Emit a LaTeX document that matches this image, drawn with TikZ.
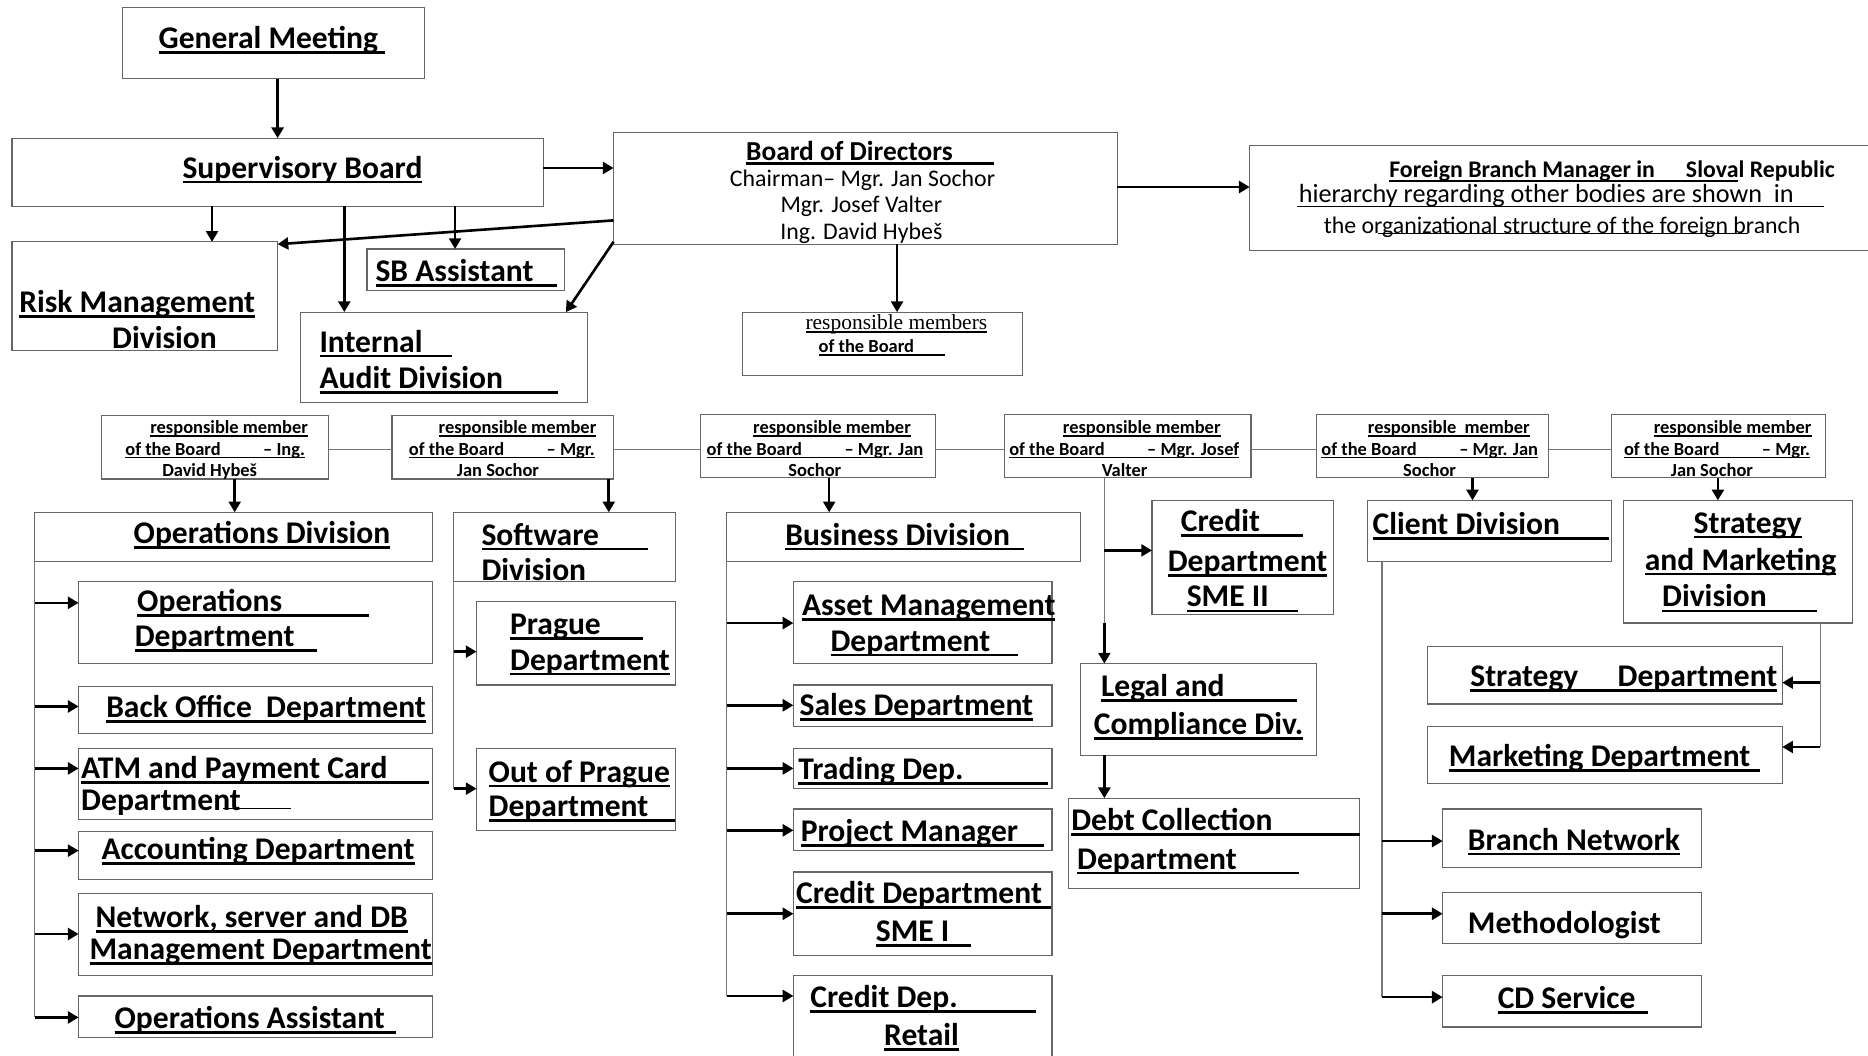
\documentclass[tikz,border=0pt]{standalone}
\usepackage{fontspec}
\setmainfont{Carlito}
\newfontfamily\timesf{Liberation Serif}
\usetikzlibrary{arrows.meta}
\definecolor{boxc}{HTML}{666666}
\definecolor{connc}{HTML}{777777}
\newlength\myulw
\newcommand\myulx[2]{\settowidth{\myulw}{#1}\addtolength{\myulw}{#2}\leavevmode\rlap{\rule[-0.17em]{\myulw}{0.09em}}#1}
\newcommand\myul[1]{\myulx{#1}{0pt}}
\begin{document}
\begin{tikzpicture}[x=1pt,y=-1pt,
  box/.style={draw=boxc, line width=1pt, inner sep=0pt, outer sep=0pt, anchor=north west},
  arr/.style={line width=2.2pt, -{Triangle[length=9pt,width=10pt]}},
  conn/.style={draw=connc, line width=1pt},
  big/.style={inner sep=0pt, anchor=base west, yshift=-8.5pt, font=\bfseries\fontsize{26.5}{30}\selectfont},
  bigc/.style={big, anchor=base},
  sm/.style={inner sep=0pt, anchor=base west, yshift=-5pt, font=\bfseries\fontsize{15.5}{18}\selectfont},
  smc/.style={sm, anchor=base},
  reg/.style={inner sep=0pt, anchor=base, yshift=-6.4pt, font=\fontsize{20}{24}\selectfont},
  bodt/.style={inner sep=0pt, anchor=base, yshift=-7.4pt, font=\bfseries\fontsize{23}{27}\selectfont},
  thinul/.style={line width=0.8pt}
]
\useasboundingbox[fill=white] (0,0) rectangle (1568,886);

% ---------- boxes ----------
\node[box, minimum width=253pt, minimum height=60pt] (gm) at (103,6) {};
\node[box, minimum width=446pt, minimum height=57pt] (sb) at (10,116) {};
\node[box, minimum width=423pt, minimum height=94pt] (bod) at (515,111) {};
\node[box, minimum width=536pt, minimum height=88pt] (fb) at (1049,122) {};
\node[box, minimum width=223pt, minimum height=91pt] (risk) at (10,203) {};
\node[box, minimum width=166pt, minimum height=35pt] (sba) at (308,209) {};
\node[box, minimum width=241pt, minimum height=76pt] (audit) at (252,262) {};
\node[box, minimum width=235pt, minimum height=53pt] (resp) at (623,262) {};
\node[box, minimum width=191pt, minimum height=53pt] (r1) at (85,349) {};
\node[box, minimum width=186pt, minimum height=53pt] (r2) at (329,349) {};
\node[box, minimum width=197pt, minimum height=53pt] (r3) at (588,348) {};
\node[box, minimum width=207pt, minimum height=53pt] (r4) at (843,348) {};
\node[box, minimum width=195pt, minimum height=53pt] (r5) at (1105,348) {};
\node[box, minimum width=179pt, minimum height=53pt] (r6) at (1353,348) {};
\node[box, minimum width=334pt, minimum height=41pt] (opsdiv) at (29,430) {};
\node[box, minimum width=297pt, minimum height=69pt] (opsdept) at (66,488) {};
\node[box, minimum width=297pt, minimum height=40pt] (back) at (66,576) {};
\node[box, minimum width=297pt, minimum height=60pt] (atm) at (66,628) {};
\node[box, minimum width=297pt, minimum height=40pt] (acc) at (66,698) {};
\node[box, minimum width=297pt, minimum height=69pt] (net) at (66,750) {};
\node[box, minimum width=297pt, minimum height=35pt] (oasst) at (66,836) {};
\node[box, minimum width=186pt, minimum height=58pt] (swdiv) at (381,430) {};
\node[box, minimum width=167pt, minimum height=70pt] (prague) at (400,505) {};
\node[box, minimum width=167pt, minimum height=69pt] (oop) at (400,628) {};
\node[box, minimum width=297pt, minimum height=41pt] (busdiv) at (610,430) {};
\node[box, minimum width=217pt, minimum height=69pt] (asset) at (666,488) {};
\node[box, minimum width=217pt, minimum height=35pt] (sales) at (666,575) {};
\node[box, minimum width=217pt, minimum height=34pt] (trading) at (666,628) {};
\node[box, minimum width=217pt, minimum height=35pt] (pm) at (666,679) {};
\node[box, minimum width=217pt, minimum height=70pt] (sme1) at (666,732) {};
\node[box, minimum width=217pt, minimum height=73pt] (retail) at (666,819) {};
\node[box, minimum width=152pt, minimum height=96pt] (sme2) at (967,420) {};
\node[box, minimum width=198pt, minimum height=77pt] (legal) at (907,557) {};
\node[box, minimum width=244pt, minimum height=76pt] (debt) at (897,670) {};
\node[box, minimum width=205pt, minimum height=51pt] (client) at (1148,420) {};
\node[box, minimum width=192pt, minimum height=103pt] (smdiv) at (1363,420) {};
\node[box, minimum width=298pt, minimum height=48pt] (stratd) at (1198,543) {};
\node[box, minimum width=298pt, minimum height=48pt] (mktd) at (1198,610) {};
\node[box, minimum width=217pt, minimum height=49pt] (branch) at (1211,679) {};
\node[box, minimum width=217pt, minimum height=43pt] (meth) at (1211,749) {};
\node[box, minimum width=217pt, minimum height=43pt] (cds) at (1211,819) {};

% ---------- texts ----------
\node[big] (tgm) at (133,32) {\myulx{General Meeting}{6pt}};
\node[big] (tsb) at (153,141) {\myul{Supervisory Board}};
\node[bodt] (tbod) at (713,127) {\myulx{Board of Directors}{35pt}};
\node[reg] (tbod1) at (724,150) {Chairman– Mgr. Jan Sochor};
\node[reg] (tbod2) at (723,172) {Mgr. Josef Valter};
\node[reg] (tbod3) at (723,195) {Ing. David Hybeš};
\node[inner sep=0pt, anchor=base west, yshift=-6.4pt, font=\bfseries\fontsize{20}{24}\selectfont] (tfb1) at (1166,143) {\myul{Foreign Branch Manager in\hspace{1.3em}Slova}l Republic};
\node[inner sep=0pt, anchor=base west, yshift=-7pt, font=\fontsize{22}{26}\selectfont] (tfb2) at (1090,163) {hierarchy regarding other bodies are shown\ \ in};
\node[inner sep=0pt, anchor=base west, yshift=-6.4pt, font=\fontsize{20}{24}\selectfont] (tfb3) at (1111,190) {the organizational structure of the foreign branch};
\draw[thinul] (1089,173) -- (1531,173);
\draw[thinul] (1157,196) -- (1467,196);
\node[big] (trisk1) at (16,254) {\myul{Risk Management}};
\node[big] (trisk2) at (94,284) {Division};
\node[big] (tsba) at (315,228) {\myulx{SB Assistant}{20pt}};
\node[big] (taud1) at (268,287) {\myulx{Internal}{25pt}};
\node[big] (taud2) at (268,318) {\myulx{Audit Division}{46pt}};
\node[inner sep=0pt, anchor=base west, yshift=-5.8pt, font=\timesf\fontsize{18}{21}\selectfont] (tresp1) at (676,271) {\myul{responsible members}};
\node[sm] (tresp2) at (687,291) {\myulx{of the Board}{26pt}};

% responsible member row
\node[sm] (tr1a) at (126,359) {\myul{responsible member}};
\node[sm] (tr1b) at (105,377) {\myul{of the Board\hspace{2.3em}– Ing.}};
\node[smc] (tr1c) at (176,395) {David Hybeš};
\node[sm] (tr2a) at (368,359) {\myul{responsible member}};
\node[sm] (tr2b) at (343,377) {\myul{of the Board\hspace{2.3em}– Mgr.}};
\node[smc] (tr2c) at (418,395) {Jan Sochor};
\node[sm] (tr3a) at (632,359) {\myul{responsible member}};
\node[sm] (tr3b) at (593,377) {\myul{of the Board\hspace{2.3em}– Mgr. Jan}};
\node[smc] (tr3c) at (684,395) {Sochor};
\node[sm] (tr4a) at (892,359) {\myul{responsible member}};
\node[sm] (tr4b) at (847,377) {\myul{of the Board\hspace{2.3em}– Mgr. Josef}};
\node[smc] (tr4c) at (944,395) {Valter};
\node[sm] (tr5a) at (1148,359) {\myul{responsible\ \ member}};
\node[sm] (tr5b) at (1109,377) {\myul{of the Board\hspace{2.3em}– Mgr. Jan}};
\node[smc] (tr5c) at (1200,395) {Sochor};
\node[sm] (tr6a) at (1388,359) {\myul{responsible member}};
\node[sm] (tr6b) at (1363,377) {\myul{of the Board\hspace{2.3em}– Mgr.}};
\node[smc] (tr6c) at (1437,395) {Jan Sochor};

% operations
\node[big] (topsdiv) at (112,448) {\myul{Operations Division}};
\node[big] (topsd1) at (115,505) {\myulx{Operations}{73pt}};
\node[big] (topsd2) at (113,534) {\myulx{Department}{19pt}};
\node[big] (tback) at (89,594) {\myul{Back Office\ \ Department}};
\node[big] (tatm1) at (68,645) {\myulx{ATM and Payment Card}{35pt}};
\node[big] (tatm2) at (68,672) {Department};
\draw[thinul] (187,679) -- (244,679);
\node[big] (tacc) at (85,713) {\myul{Accounting Department}};
\node[big] (tnet1) at (80,770) {\myul{Network, server and DB}};
\node[big] (tnet2) at (75,797) {\myul{Management Department}};
\node[big] (toasst) at (96,855) {\myulx{Operations Assistant}{9pt}};

% software
\node[big] (tsw1) at (404,449) {\myulx{Software}{41pt}};
\node[big] (tsw2) at (404,479) {Division};
\node[big] (tpr1) at (428,524) {\myulx{Prague}{35pt}};
\node[big] (tpr2) at (428,554) {\myul{Department}};
\node[big] (toop1) at (410,648) {\myul{Out of Prague}};
\node[big] (toop2) at (410,677) {\myulx{Department}{22pt}};

% business
\node[big] (tbus) at (659,449) {\myulx{Business Division}{12pt}};
\node[big] (tasset1) at (673,508) {\myul{Asset Management}};
\node[big] (tasset2) at (697,538) {\myulx{Department}{23pt}};
\node[big] (tsales) at (671,592) {\myul{Sales Department}};
\node[big] (ttrad) at (670,646) {\myulx{Trading Dep.}{71pt}};
\node[big] (tpm) at (672,698) {\myulx{Project Manager}{22pt}};
\node[big] (tsme1a) at (668,750) {\myulx{Credit Department}{8pt}};
\node[big] (tsme1b) at (735,782) {\myulx{SME I}{18pt}};
\node[big] (tret1) at (680,837) {\myulx{Credit Dep.}{66pt}};
\node[big] (tret2) at (742,869) {\myul{Retail}};

% Valter branch
\node[big] (tsme2a) at (991,438) {\myulx{Credit}{36pt}};
\node[big] (tsme2b) at (980,471) {\myul{Department}};
\node[big] (tsme2c) at (996,501) {\myulx{SME II}{25pt}};
\node[big] (tleg1) at (924,576) {\myulx{Legal and}{61pt}};
\node[big] (tleg2) at (918,608) {\myul{Compliance Div.}};
\node[big] (tdebt1) at (899,689) {\myulx{Debt Collection}{73pt}};
\node[big] (tdebt2) at (904,721) {\myulx{Department}{52pt}};

% client
\node[big] (tclient) at (1152,440) {\myulx{Client Division}{41pt}};
\node[big] (tbranch) at (1232,705) {\myul{Branch Network}};
\node[big] (tmeth) at (1232,775) {Methodologist};
\node[big] (tcds) at (1257,838) {\myulx{CD Service}{10pt}};

% strategy
\node[bigc] (tsm1) at (1467,439) {\myul{Strategy}};
\node[bigc] (tsm2) at (1461,470) {\myul{and Marketing}};
\node[big] (tsm3) at (1395,501) {\myulx{Division}{42pt}};
\node[big] (tstrat) at (1234,568) {\myul{Strategy\hspace{33pt}Department}};
\node[big] (tmkt) at (1216,635) {\myulx{Marketing Department}{8pt}};

% ---------- connectors ----------
\draw[arr] (233,0 |- gm.south) -- (233,0 |- sb.north);
\draw[arr] (sb.east |- 0,141) -- (bod.west |- 0,141);
\draw[arr] (178,0 |- sb.south) -- (178,0 |- risk.north);
\draw[arr] (289,0 |- sb.south) -- (289,0 |- audit.north);
\draw[arr] (382,0 |- sb.south) -- (382,0 |- sba.north);
\draw[arr] (bod.west |- 0,185) -- (risk.east |- 0,205);
\draw[arr] (bod.west |- 0,203) -- (475,0 |- audit.north);
\draw[arr] (bod.east |- 0,157) -- (fb.west |- 0,157);
\draw[arr] (753,0 |- bod.south) -- (753,0 |- resp.north);

% row connection
\draw[conn] (r1.east |- 0,377) -- (r2.west |- 0,377);
\draw[conn] (r2.east |- 0,377) -- (r3.west |- 0,377);
\draw[conn] (r3.east |- 0,377) -- (r4.west |- 0,377);
\draw[conn] (r4.east |- 0,377) -- (r5.west |- 0,377);
\draw[conn] (r5.east |- 0,377) -- (r6.west |- 0,377);

\draw[arr] (197,0 |- r1.south) -- (197,0 |- opsdiv.north);
\draw[arr] (511,0 |- r2.south) -- (511,0 |- swdiv.north);
\draw[arr] (696,0 |- r3.south) -- (696,0 |- busdiv.north);
\draw[arr] (1236,0 |- r5.south) -- (1236,0 |- client.north);
\draw[arr] (1442,0 |- r6.south) -- (1442,0 |- smdiv.north);

% Valter
\coordinate (vk) at (927,523);
\draw[conn] (927,0 |- r4.south) -- (vk);
\draw[arr] (vk) -- (927,0 |- legal.north);
\draw[arr] (927,462) -- (sme2.west |- 0,462);
\draw[arr] (927,0 |- legal.south) -- (927,0 |- debt.north);

% operations group
\draw[conn] (opsdiv.south west) -- (29,854);
\foreach \yy/\nn in {506/opsdept, 593/back, 645/atm, 714/acc, 784/net, 854/oasst}
  \draw[arr] (opsdiv.west |- 0,\yy) -- (\nn.west |- 0,\yy);

% software group
\draw[conn] (swdiv.south west) -- (381,662);
\foreach \yy/\nn in {547/prague, 662/oop}
  \draw[arr] (swdiv.west |- 0,\yy) -- (\nn.west |- 0,\yy);

% business group
\draw[conn] (busdiv.south west) -- (610,836);
\foreach \yy/\nn in {523/asset, 592/sales, 645/trading, 697/pm, 767/sme1, 836/retail}
  \draw[arr] (busdiv.west |- 0,\yy) -- (\nn.west |- 0,\yy);

% client group
\draw[conn] (1160,0 |- client.south) -- (1160,837);
\foreach \yy/\nn in {706/branch, 767/meth, 837/cds}
  \draw[arr] (1160,\yy) -- (\nn.west |- 0,\yy);

% strategy group
\draw[conn] (1528,0 |- smdiv.south) -- (1528,627);
\foreach \yy/\nn in {573/stratd, 627/mktd}
  \draw[arr] (1528,\yy) -- (\nn.east |- 0,\yy);
\end{tikzpicture}
\end{document}
